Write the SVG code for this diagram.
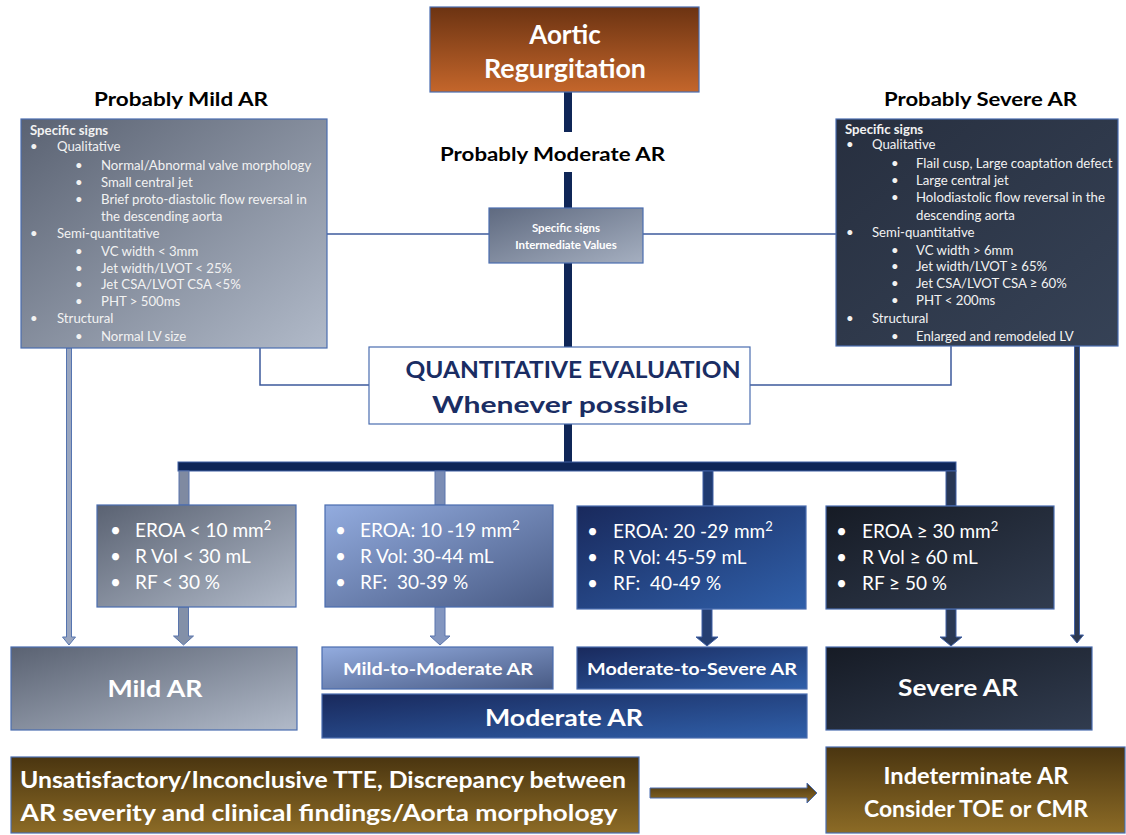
<svg xmlns="http://www.w3.org/2000/svg" width="1126" height="835" viewBox="0 0 1126 835">
<style>
text{font-family:Lato,"Open Sans","Liberation Sans",sans-serif}
.w{fill:#ffffff}
.b{font-weight:bold}
.ttl{font-size:19px;font-weight:bold;fill:#000}
.sm{font-size:13.2px;fill:#f2f2f2}
.q{font-size:19px;fill:#fff}
.lbl{font-weight:bold;fill:#fff;text-anchor:middle}
.bx{stroke:#4a6db0;stroke-width:1.2}
.thin{fill:none;stroke:#3c5a9c;stroke-width:1.5}
.trunk{stroke:#0f2657;stroke-width:8;fill:none}
</style>
<defs>
<linearGradient id="gBrown" x1="0" y1="0" x2="0" y2="1"><stop offset="0" stop-color="#6c3312"/><stop offset="1" stop-color="#c4662b"/></linearGradient>
<linearGradient id="gGray" x1="0" y1="0" x2="1" y2="1"><stop offset="0" stop-color="#5a6272"/><stop offset="1" stop-color="#b1bac9"/></linearGradient>
<linearGradient id="gMid" x1="0" y1="0" x2="1" y2="1"><stop offset="0" stop-color="#5f6a80"/><stop offset="1" stop-color="#a5afc0"/></linearGradient>
<linearGradient id="gDark" x1="0" y1="0" x2="1" y2="1"><stop offset="0" stop-color="#272f3f"/><stop offset="1" stop-color="#364256"/></linearGradient>
<linearGradient id="gLB" x1="0" y1="0" x2="1" y2="1"><stop offset="0" stop-color="#93acdf"/><stop offset="1" stop-color="#485a84"/></linearGradient>
<linearGradient id="gNavy" x1="0" y1="0" x2="1" y2="1"><stop offset="0" stop-color="#19295c"/><stop offset="1" stop-color="#3060aa"/></linearGradient>
<linearGradient id="gBlack" x1="0" y1="0" x2="1" y2="1"><stop offset="0" stop-color="#161b25"/><stop offset="1" stop-color="#313c4f"/></linearGradient>
<linearGradient id="gOl" x1="0" y1="0" x2="0" y2="1"><stop offset="0" stop-color="#4a3510"/><stop offset="1" stop-color="#8c6b26"/></linearGradient>
</defs>

<g id="connectors">
<line class="trunk" x1="568" y1="92" x2="568" y2="132"/>
<line class="trunk" x1="568" y1="172" x2="568" y2="208"/>
<line class="trunk" x1="568" y1="263" x2="568" y2="347"/>
<line class="trunk" x1="568" y1="424" x2="568" y2="464"/>
<rect x="178" y="462" width="778" height="9" fill="#0f2657" stroke="#3f5fa3" stroke-width="1"/>
<line class="thin" x1="327" y1="234" x2="489" y2="234"/>
<line class="thin" x1="643" y1="234" x2="836" y2="234"/>
<polyline class="thin" points="260,348 260,385 369,385"/>
<polyline class="thin" points="951,346 951,385 750,385"/>
<rect x="179" y="471" width="10" height="34" fill="#7f8aa1" stroke="#5a75ad" stroke-width="1"/>
<rect x="435" y="471" width="10" height="34" fill="#7b8db5" stroke="#5a75ad" stroke-width="1"/>
<rect x="703" y="471" width="10" height="35" fill="#1f3a70" stroke="#3f5fa3" stroke-width="1"/>
<rect x="946" y="471" width="10" height="35" fill="#283754" stroke="#3f5fa3" stroke-width="1"/>
<polygon points="66.5,348 71.5,348 71.5,637 75.5,637 69,645 62.5,637 66.5,637" fill="#9aa6bf" stroke="#5574b0" stroke-width="1"/>
<polygon points="1074.5,346 1079.5,346 1079.5,635 1083.5,635 1077,643 1070.5,635 1074.5,635" fill="#2c3850" stroke="#3f5fa3" stroke-width="1"/>
<polygon points="178.5,607 188.5,607 188.5,636 193.5,636 183.5,645 173.5,636 178.5,636" fill="#8390a8" stroke="#5a75ad" stroke-width="1"/>
<polygon points="435,607 445,607 445,636 450,636 440,645 430,636 435,636" fill="#8396c0" stroke="#5a75ad" stroke-width="1"/>
<polygon points="702,609 712,609 712,637 718,637 707,646 696,637 702,637" fill="#253f72" stroke="#3f5fa3" stroke-width="1"/>
<polygon points="946,609 956,609 956,637 962,637 951,646 940,637 946,637" fill="#2a3852" stroke="#3f5fa3" stroke-width="1"/>
<polygon points="650,788 807,788 807,783 817,793 807,803 807,798 650,798" fill="url(#gOl)" stroke="#4a6db0" stroke-width="1"/>
</g>

<g id="aortic">
<rect class="bx" x="430" y="7" width="269" height="85" fill="url(#gBrown)"/>
<text class="lbl" x="565" y="44" font-size="26">Aortic</text>
<text class="lbl" x="565" y="78" font-size="26" textLength="162" lengthAdjust="spacingAndGlyphs">Regurgitation</text>
</g>

<g id="title-mild"><text class="ttl" x="94" y="106" textLength="174" lengthAdjust="spacingAndGlyphs">Probably Mild AR</text></g>
<g id="title-moderate"><text class="ttl" x="440" y="161" textLength="225" lengthAdjust="spacingAndGlyphs">Probably Moderate AR</text></g>
<g id="title-severe"><text class="ttl" x="884" y="106" textLength="193" lengthAdjust="spacingAndGlyphs">Probably Severe AR</text></g>

<g id="mild-signs">
<rect class="bx" x="21" y="119" width="306" height="229" fill="url(#gGray)"/>
<g class="sm">
<text x="30" y="135" class="b">Specific signs</text>
<text x="30" y="151">•</text><text x="57" y="151">Qualitative</text>
<text x="75" y="170">•</text><text x="101" y="170">Normal/Abnormal valve morphology</text>
<text x="75" y="187">•</text><text x="101" y="187">Small central jet</text>
<text x="75" y="204">•</text><text x="101" y="204">Brief proto-diastolic flow reversal in</text>
<text x="101" y="221">the descending aorta</text>
<text x="30" y="238">•</text><text x="57" y="238">Semi-quantitative</text>
<text x="75" y="256">•</text><text x="101" y="256">VC width &lt; 3mm</text>
<text x="75" y="273">•</text><text x="101" y="273">Jet width/LVOT &lt; 25%</text>
<text x="75" y="289">•</text><text x="101" y="289">Jet CSA/LVOT CSA &lt;5%</text>
<text x="75" y="306">•</text><text x="101" y="306">PHT &gt; 500ms</text>
<text x="30" y="323">•</text><text x="57" y="323">Structural</text>
<text x="75" y="341">•</text><text x="101" y="341">Normal LV size</text>
</g>
</g>

<g id="severe-signs">
<rect class="bx" x="836" y="119" width="282" height="227" fill="url(#gDark)"/>
<g class="sm">
<text x="845" y="134" class="b">Specific signs</text>
<text x="846" y="149">•</text><text x="872" y="149">Qualitative</text>
<text x="891" y="168">•</text><text x="916" y="168">Flail cusp, Large coaptation defect</text>
<text x="891" y="185">•</text><text x="916" y="185">Large central jet</text>
<text x="891" y="202">•</text><text x="916" y="202">Holodiastolic flow reversal in the</text>
<text x="916" y="220">descending aorta</text>
<text x="846" y="237">•</text><text x="872" y="237">Semi-quantitative</text>
<text x="891" y="255">•</text><text x="916" y="255">VC width &gt; 6mm</text>
<text x="891" y="271">•</text><text x="916" y="271">Jet width/LVOT ≥ 65%</text>
<text x="891" y="288">•</text><text x="916" y="288">Jet CSA/LVOT CSA ≥ 60%</text>
<text x="891" y="305">•</text><text x="916" y="305">PHT &lt; 200ms</text>
<text x="846" y="323">•</text><text x="872" y="323">Structural</text>
<text x="891" y="341">•</text><text x="916" y="341">Enlarged and remodeled LV</text>
</g>
</g>

<g id="moderate-signs">
<rect class="bx" x="489" y="208" width="154" height="55" fill="url(#gMid)"/>
<text class="lbl" x="566" y="232" font-size="11.5" fill="#f0f0f0">Specific signs</text>
<text class="lbl" x="566" y="249" font-size="11.5" fill="#f0f0f0">Intermediate Values</text>
</g>

<g id="quantitative">
<rect class="bx" x="369" y="347" width="381" height="77" fill="#ffffff"/>
<text x="573" y="378" font-size="22" font-weight="bold" fill="#1a2d63" text-anchor="middle" textLength="335" lengthAdjust="spacingAndGlyphs">QUANTITATIVE EVALUATION</text>
<text x="560" y="413" font-size="22" font-weight="bold" fill="#1a2d63" text-anchor="middle" textLength="256" lengthAdjust="spacingAndGlyphs">Whenever possible</text>
</g>

<g id="q-mild">
<rect class="bx" x="97" y="505" width="199" height="102" fill="url(#gGray)"/>
<g class="q">
<text x="110" y="537">•</text><text x="135" y="537">EROA &lt; 10 mm<tspan font-size="13" dy="-7">2</tspan></text>
<text x="110" y="563">•</text><text x="135" y="563">R Vol &lt; 30 mL</text>
<text x="110" y="589">•</text><text x="135" y="589">RF &lt; 30 %</text>
</g>
</g>

<g id="q-mildmod">
<rect class="bx" x="325" y="505" width="228" height="102" fill="url(#gLB)"/>
<g class="q">
<text x="335" y="537">•</text><text x="360" y="537">EROA: 10 -19 mm<tspan font-size="13" dy="-7">2</tspan></text>
<text x="335" y="563">•</text><text x="360" y="563">R Vol: 30-44 mL</text>
<text x="335" y="589">•</text><text x="360" y="589">RF:&#160; 30-39 %</text>
</g>
</g>

<g id="q-modsev">
<rect class="bx" x="577" y="506" width="229" height="103" fill="url(#gNavy)"/>
<g class="q">
<text x="587" y="538">•</text><text x="613" y="538">EROA: 20 -29 mm<tspan font-size="13" dy="-7">2</tspan></text>
<text x="587" y="564">•</text><text x="613" y="564">R Vol: 45-59 mL</text>
<text x="587" y="590">•</text><text x="613" y="590">RF:&#160; 40-49 %</text>
</g>
</g>

<g id="q-severe">
<rect class="bx" x="826" y="506" width="228" height="103" fill="url(#gBlack)"/>
<g class="q">
<text x="836" y="538">•</text><text x="862" y="538">EROA ≥ 30 mm<tspan font-size="13" dy="-7">2</tspan></text>
<text x="836" y="564">•</text><text x="862" y="564">R Vol ≥ 60 mL</text>
<text x="836" y="590">•</text><text x="862" y="590">RF ≥ 50 %</text>
</g>
</g>

<g id="mild-ar">
<rect class="bx" x="11" y="647" width="286" height="83" fill="url(#gGray)"/>
<text class="lbl" x="155" y="697" font-size="23" textLength="95" lengthAdjust="spacingAndGlyphs">Mild AR</text>
</g>
<g id="mild-moderate-ar">
<rect class="bx" x="322" y="647" width="231" height="42" fill="url(#gLB)"/>
<text class="lbl" x="438" y="675" font-size="17" textLength="190" lengthAdjust="spacingAndGlyphs">Mild-to-Moderate AR</text>
</g>
<g id="moderate-severe-ar">
<rect class="bx" x="577" y="647" width="230" height="42" fill="url(#gNavy)"/>
<text class="lbl" x="692" y="675" font-size="17" textLength="210" lengthAdjust="spacingAndGlyphs">Moderate-to-Severe AR</text>
</g>
<g id="moderate-ar">
<rect class="bx" x="322" y="694" width="485" height="44" fill="url(#gNavy)"/>
<text class="lbl" x="564" y="726" font-size="23" textLength="158" lengthAdjust="spacingAndGlyphs">Moderate AR</text>
</g>
<g id="severe-ar">
<rect class="bx" x="826" y="647" width="266" height="83" fill="url(#gBlack)"/>
<text class="lbl" x="958" y="696" font-size="23" textLength="120" lengthAdjust="spacingAndGlyphs">Severe AR</text>
</g>

<g id="inconclusive">
<rect class="bx" x="11" y="757" width="628" height="76" fill="url(#gOl)"/>
<text class="lbl" x="323" y="788" font-size="23" textLength="606" lengthAdjust="spacingAndGlyphs">Unsatisfactory/Inconclusive TTE, Discrepancy between</text>
<text class="lbl" x="319" y="821" font-size="23" textLength="597" lengthAdjust="spacingAndGlyphs">AR severity and clinical findings/Aorta morphology</text>
</g>
<g id="indeterminate">
<rect class="bx" x="826" y="747" width="299" height="86" fill="url(#gOl)"/>
<text class="lbl" x="976" y="784" font-size="23" textLength="185" lengthAdjust="spacingAndGlyphs">Indeterminate AR</text>
<text class="lbl" x="976" y="817" font-size="23" textLength="224" lengthAdjust="spacingAndGlyphs">Consider TOE or CMR</text>
</g>
</svg>
